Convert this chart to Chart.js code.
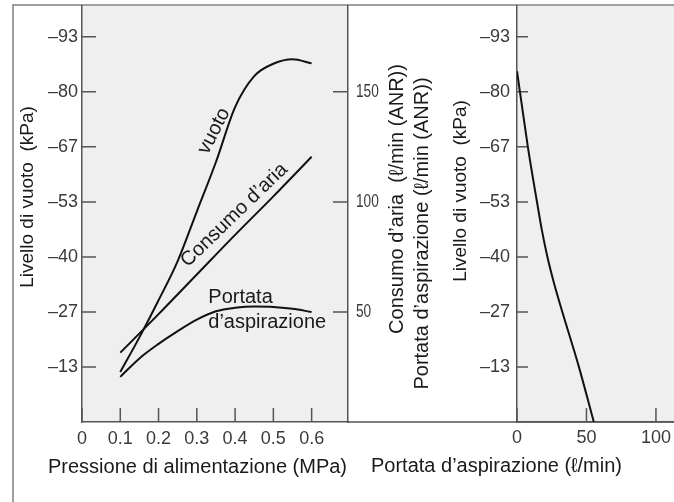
<!DOCTYPE html>
<html><head><meta charset="utf-8">
<script src="https://cdn.jsdelivr.net/npm/chart.js@4.4.1/dist/chart.umd.min.js"></script>
<style>
html,body{margin:0;padding:0;background:#fff;}
#wrap{position:relative;width:674px;height:502px;overflow:hidden;}
canvas{position:absolute;left:0;top:0;}
</style></head><body>
<div id="wrap"><canvas id="c1" width="674" height="502"></canvas><canvas id="c2" width="674" height="502"></canvas></div>
<script>
// ---- data ----
const pressioneVuoto = [0.1, 0.15, 0.2, 0.25, 0.3, 0.35, 0.4, 0.45, 0.5, 0.55, 0.6];
const vuoto = [-12.1, -20.5, -29.5, -39, -51, -63, -76.3, -83.8, -86.8, -87.9, -86.9];
const pressioneConsumo = [0.1, 0.2, 0.3, 0.4, 0.5, 0.6];
const consumoAria = [31.5, 49, 67, 85, 102.5, 120.5];
const pressionePortata = [0.1, 0.15, 0.2, 0.25, 0.3, 0.35, 0.4, 0.45, 0.5, 0.55, 0.6];
const portataAspirazione = [20.5, 28.9, 35.5, 41.3, 46.5, 50.3, 51.9, 52.5, 52.3, 51.4, 50];
const portataCurva = [0, 2.2, 7.9, 14.4, 17.9, 21.9, 26.6, 32.6, 44.6, 55.3];
const vuotoCurva = [-85, -79.8, -66.5, -53.3, -46.5, -40, -33.7, -26.7, -13.3, 0];

// ---- tick labels ----
const vuotoTickValues = [-13.333, -26.667, -40, -53.333, -66.667, -80, -93.333];
const vuotoTickLabels = ['\u201313', '\u201327', '\u201340', '\u201353', '\u201367', '\u201380', '\u201393'];
const consumoTickValues = [50, 100, 150];
const consumoTickLabels = ['50', '100', '150'];
const pressioneTickValues = [0, 0.1, 0.2, 0.3, 0.4, 0.5, 0.6];
const pressioneTickLabels = ['0', '0.1', '0.2', '0.3', '0.4', '0.5', '0.6'];
const portataTickValues = [0, 50, 100];
const portataTickLabels = ['0', '50', '100'];

const FONT = "'Liberation Sans', Arial, Helvetica, sans-serif";
const AXIS = '#555';
const PANEL = '#efefef';
const TICKTXT = '#3a3a3a';
const TXT = '#1a1a1a';

function pts(xs, ys) { return xs.map((x, i) => ({x: x, y: ys[i]})); }
function setTicks(values) { return s => { s.ticks = values.map(v => ({value: v})); }; }
function labelFrom(values, labels) {
  return function (v) { const i = values.findIndex(t => Math.abs(t - v) < 1e-6); return i >= 0 ? labels[i] : ''; };
}
function txt(ctx, s, x, y, rot, font, align, base, color, sx) {
  ctx.save();
  ctx.translate(x, y);
  if (rot) ctx.rotate(rot * Math.PI / 180);
  if (sx) ctx.scale(sx, 1);
  ctx.font = font;
  ctx.fillStyle = color || TXT;
  ctx.textAlign = align || 'center';
  ctx.textBaseline = base || 'middle';
  ctx.fillText(s, 0, 0);
  ctx.restore();
}
function inwardTicks(chart, id, len) {
  const s = chart.scales[id], a = chart.chartArea, ctx = chart.ctx;
  ctx.save(); ctx.strokeStyle = AXIS; ctx.lineWidth = 1.5; ctx.beginPath();
  s.ticks.forEach(t => {
    const p = s.getPixelForValue(t.value);
    if (s.isHorizontal()) { ctx.moveTo(p, a.bottom); ctx.lineTo(p, a.bottom - len); }
    else if (s.position === 'left') { ctx.moveTo(a.left, p); ctx.lineTo(a.left + len, p); }
    else { ctx.moveTo(a.right, p); ctx.lineTo(a.right - len, p); }
  });
  ctx.stroke(); ctx.restore();
}
const lineDs = (label, data, yId) => ({
  label, data, yAxisID: yId, borderColor: '#111', borderWidth: 2, pointRadius: 0,
  fill: false, cubicInterpolationMode: 'monotone'
});
const noPad = s => { s.paddingTop = 0; s.paddingBottom = 0; s.paddingLeft = 0; s.paddingRight = 0; };
const GRID = {display: false, drawTicks: false, tickLength: 0};
const BORDER = {display: true, color: AXIS, width: 1.5};

// ---- left chart ----
const leftPlugin = {
  id: 'leftDeco',
  beforeDraw(chart) {
    const ctx = chart.ctx, a = chart.chartArea;
    ctx.save();
    ctx.fillStyle = PANEL;
    ctx.fillRect(a.left, a.top, a.right - a.left, a.bottom - a.top);
    ctx.strokeStyle = '#808080'; ctx.lineWidth = 1.5;
    ctx.beginPath(); ctx.moveTo(13, chart.height); ctx.lineTo(13, 5); ctx.lineTo(chart.width, 5); ctx.stroke();
    ctx.strokeStyle = AXIS;
    ctx.beginPath(); ctx.moveTo(a.right, a.bottom); ctx.lineTo(chart.width, a.bottom); ctx.stroke();
    ctx.restore();
  },
  beforeDatasetsDraw(chart) {
    inwardTicks(chart, 'y', 14);
    inwardTicks(chart, 'y1', 15);
    inwardTicks(chart, 'x', 14);
  },
  afterDraw(chart) {
    const ctx = chart.ctx, x = chart.scales.x, y = chart.scales.y, y1 = chart.scales.y1, a = chart.chartArea;
    const f = '20px ' + FONT;
    // narrow tick labels of the secondary axis, positioned by the y1 scale
    y1.ticks.forEach(t => {
      txt(ctx, labelFrom(consumoTickValues, consumoTickLabels)(t.value), a.right + 8, y1.getPixelForValue(t.value),
        0, '19px ' + FONT, 'left', 'middle', TICKTXT, 0.72);
    });
    txt(ctx, 'Livello di vuoto  (kPa)', 28, 197, -90, '19px ' + FONT);
    txt(ctx, 'Pressione di alimentazione (MPa)', 197.5, 467, 0, f);
    txt(ctx, 'Consumo d\u2019aria  (\u2113/min (ANR))', 397, 199, -90, f);
    txt(ctx, 'Portata d\u2019aspirazione (\u2113/min (ANR))', 422, 233.5, -90, f);
    txt(ctx, 'vuoto', x.getPixelForValue(0.345), y.getPixelForValue(-70.5), -63, f);
    txt(ctx, 'Consumo d\u2019aria', x.getPixelForValue(0.398), y1.getPixelForValue(94), -44, f);
    txt(ctx, 'Portata', x.getPixelForValue(0.33), y1.getPixelForValue(53.9), 0, f, 'left', 'alphabetic');
    txt(ctx, 'd\u2019aspirazione', x.getPixelForValue(0.33), y1.getPixelForValue(42.9), 0, f, 'left', 'alphabetic');
  }
};

new Chart(document.getElementById('c1'), {
  type: 'line',
  data: {
    datasets: [
      lineDs('vuoto', pts(pressioneVuoto, vuoto), 'y'),
      lineDs('Consumo d\u2019aria', pts(pressioneConsumo, consumoAria), 'y1'),
      lineDs('Portata d\u2019aspirazione', pts(pressionePortata, portataAspirazione), 'y1')
    ]
  },
  options: {
    responsive: false, animation: false, events: [],
    layout: {padding: {top: 6, left: 0, right: 0, bottom: 0}},
    plugins: {legend: {display: false}, tooltip: {enabled: false}},
    scales: {
      x: {
        type: 'linear', min: 0, max: 0.695, position: 'bottom',
        afterBuildTicks: setTicks(pressioneTickValues),
        afterFit: s => { s.height = 80; noPad(s); },
        grid: GRID, border: BORDER,
        ticks: {padding: 6, color: TICKTXT, font: {family: FONT, size: 18}, maxRotation: 0,
          callback: labelFrom(pressioneTickValues, pressioneTickLabels)}
      },
      y: {
        type: 'linear', min: -100.8, max: 0, reverse: true, position: 'left',
        afterBuildTicks: setTicks(vuotoTickValues),
        afterFit: s => { s.width = 82; noPad(s); },
        grid: GRID, border: BORDER,
        ticks: {padding: 4, color: TICKTXT, font: {family: FONT, size: 18},
          callback: labelFrom(vuotoTickValues, vuotoTickLabels)}
      },
      y1: {
        type: 'linear', min: 0, max: 189, position: 'right',
        afterBuildTicks: setTicks(consumoTickValues),
        afterFit: s => { s.width = 674 - 348; noPad(s); },
        grid: GRID, border: BORDER,
        ticks: {display: false}
      }
    }
  },
  plugins: [leftPlugin]
});

// ---- right chart ----
const rightPlugin = {
  id: 'rightDeco',
  beforeDraw(chart) {
    const ctx = chart.ctx, a = chart.chartArea;
    ctx.save(); ctx.fillStyle = PANEL;
    ctx.fillRect(a.left, a.top, a.right - a.left, a.bottom - a.top);
    ctx.restore();
  },
  beforeDatasetsDraw(chart) {
    inwardTicks(chart, 'y', 11);
    inwardTicks(chart, 'x', 14);
  },
  afterDraw(chart) {
    const ctx = chart.ctx;
    txt(ctx, 'Livello di vuoto  (kPa)', 461, 191, -90, '19px ' + FONT);
    txt(ctx, 'Portata d\u2019aspirazione (\u2113/min)', 496.5, 466, 0, '20px ' + FONT);
  }
};

new Chart(document.getElementById('c2'), {
  type: 'line',
  data: {datasets: [lineDs('Portata d\u2019aspirazione', pts(portataCurva, vuotoCurva), 'y')]},
  options: {
    responsive: false, animation: false, events: [],
    layout: {padding: {top: 6, left: 0, right: 0, bottom: 0}},
    plugins: {legend: {display: false}, tooltip: {enabled: false}},
    scales: {
      x: {
        type: 'linear', min: 0, max: 113, position: 'bottom',
        afterBuildTicks: setTicks(portataTickValues),
        afterFit: s => { s.height = 80; noPad(s); },
        grid: GRID, border: BORDER,
        ticks: {padding: 5, color: TICKTXT, font: {family: FONT, size: 18}, maxRotation: 0,
          callback: labelFrom(portataTickValues, portataTickLabels)}
      },
      y: {
        type: 'linear', min: -100.8, max: 0, reverse: true, position: 'left',
        afterBuildTicks: setTicks(vuotoTickValues),
        afterFit: s => { s.width = 517; noPad(s); },
        grid: GRID, border: BORDER,
        ticks: {padding: 7, color: TICKTXT, font: {family: FONT, size: 18},
          callback: labelFrom(vuotoTickValues, vuotoTickLabels)}
      }
    }
  },
  plugins: [rightPlugin]
});
</script>
</body></html>
